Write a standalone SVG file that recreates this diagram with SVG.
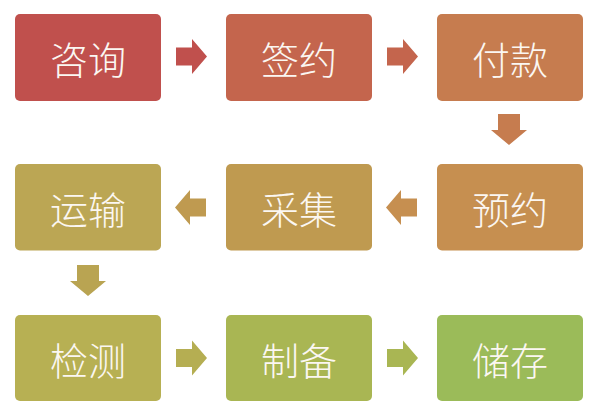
<svg xmlns="http://www.w3.org/2000/svg" width="599" height="415" viewBox="0 0 599 415">
<style>
.box rect{rx:5px;ry:5px}
.box text{font-family:"Noto Sans CJK SC","Noto Sans",sans-serif;font-size:38px;font-weight:300;fill:#FBF7F2;text-anchor:middle;dominant-baseline:central}
</style>
<defs>
<path id="ar" d="M-15,-9 H1 V-17.5 L16,0 L1,17.5 V9 H-15 Z"/>
<path id="ad" d="M-11,-16 H11 V0 H18 L0,15 L-18,0 H-11 Z"/>
</defs>
<rect width="599" height="415" fill="#ffffff"/>
<g id="connectors">
<use href="#ar" x="191" y="56.5" fill="#C0504D"/>
<use href="#ar" x="402" y="56.5" fill="#C4654D"/>
<use href="#ad" x="509" y="130" fill="#C67C4F"/>
<use href="#ar" transform="translate(402,207.5) rotate(180)" fill="#C68F50"/>
<use href="#ar" transform="translate(191,207.5) rotate(180)" fill="#BF9A50"/>
<use href="#ad" x="88" y="281" fill="#B9A452"/>
<use href="#ar" x="191" y="358" fill="#B5AE52"/>
<use href="#ar" x="402" y="358" fill="#A9B653"/>
</g>
<g id="n1" class="box"><rect x="15" y="14" width="146" height="87" fill="#C0504D"/><text x="88" y="57.5">咨询</text></g>
<g id="n2" class="box"><rect x="226" y="14" width="146" height="87" fill="#C4654D"/><text x="299" y="57.5">签约</text></g>
<g id="n3" class="box"><rect x="437" y="14" width="146" height="87" fill="#C67C4F"/><text x="510" y="57.5">付款</text></g>
<g id="n4" class="box"><rect x="437" y="164" width="146" height="86.5" fill="#C68F50"/><text x="510" y="207.5">预约</text></g>
<g id="n5" class="box"><rect x="226" y="164" width="146" height="86.5" fill="#BF9A50"/><text x="299" y="207.5">采集</text></g>
<g id="n6" class="box"><rect x="15" y="164" width="146" height="86.5" fill="#BBA654"/><text x="88" y="207.5">运输</text></g>
<g id="n7" class="box"><rect x="15" y="315" width="146" height="86" fill="#B7B053"/><text x="88" y="358">检测</text></g>
<g id="n8" class="box"><rect x="226" y="315" width="146" height="86" fill="#A9B653"/><text x="299" y="358">制备</text></g>
<g id="n9" class="box"><rect x="437" y="315" width="146" height="86" fill="#9BBB59"/><text x="510" y="358">储存</text></g>
</svg>
